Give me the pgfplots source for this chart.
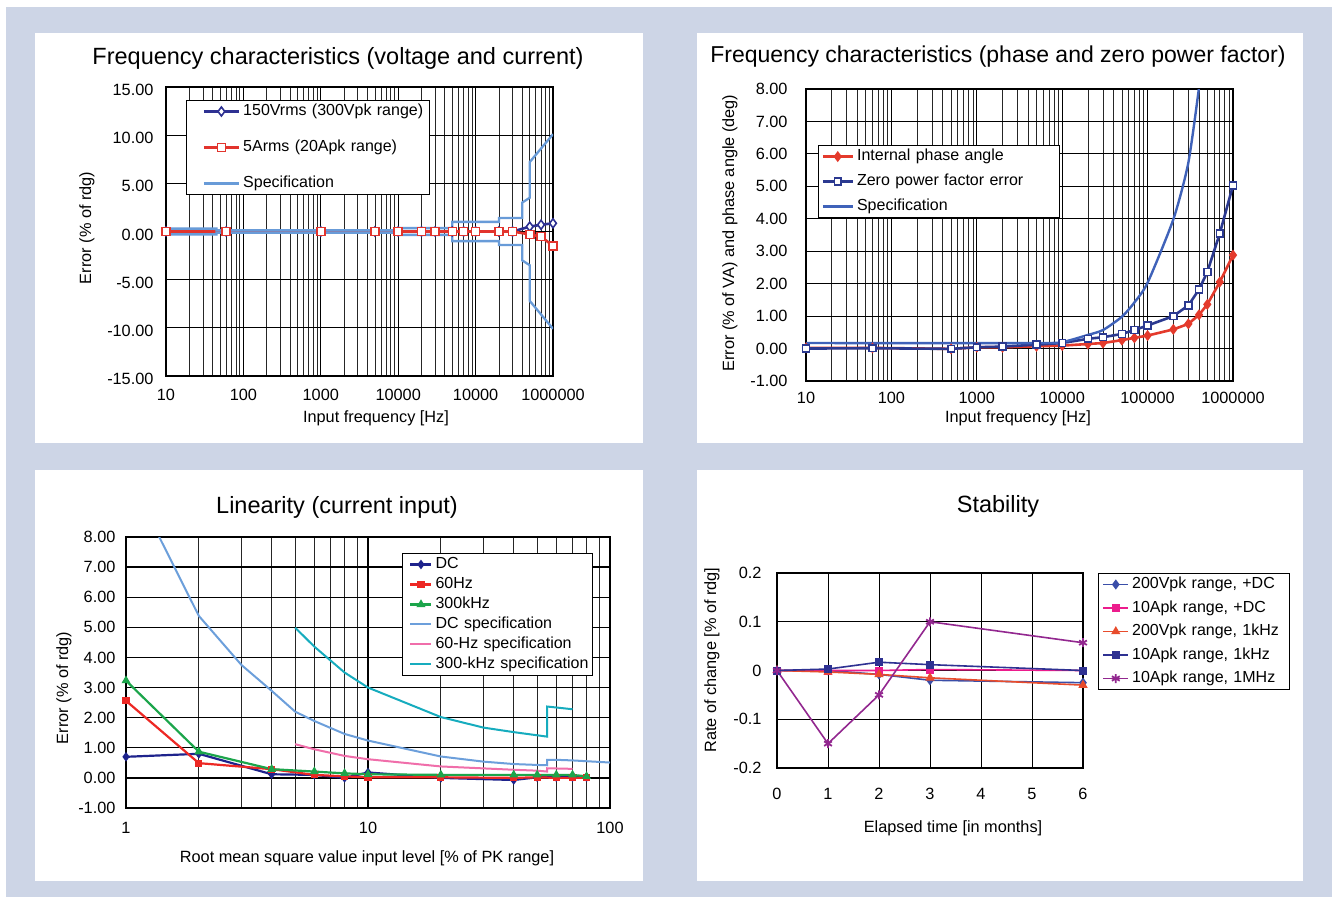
\documentclass[border=0pt]{standalone}
\usepackage{fontspec}
\setmainfont{Liberation Sans}
\usepackage{pgfplots}
\pgfplotsset{compat=1.18}

\definecolor{bgblue}{RGB}{205,213,230}
\definecolor{vblue}{RGB}{46,49,146}
\definecolor{ared}{RGB}{226,52,45}
\definecolor{speclt}{RGB}{104,155,216}
\definecolor{pred}{RGB}{228,58,44}
\definecolor{pblue}{RGB}{43,57,144}
\definecolor{pspec}{RGB}{63,98,185}
\definecolor{ldc}{RGB}{30,35,140}
\definecolor{l60}{RGB}{237,40,36}
\definecolor{l300}{RGB}{28,165,75}
\definecolor{ldcspec}{RGB}{108,159,219}
\definecolor{l60spec}{RGB}{240,110,170}
\definecolor{l300spec}{RGB}{22,172,190}
\definecolor{sblue}{RGB}{58,78,168}
\definecolor{spink}{RGB}{236,28,140}
\definecolor{sred}{RGB}{232,76,44}
\definecolor{snavy}{RGB}{46,49,146}
\definecolor{spurple}{RGB}{146,39,143}

\pgfplotsset{
  leglw/.initial=1pt,
  panel/.style={
    scale only axis, anchor=south west,
    axis line style={line width=1.6pt},
    xmajorgrids, ymajorgrids,
    major grid style={black, line width=1pt},
    minor grid style={black!85, line width=0.8pt},
    tick style={draw=none},
    ticklabel style={font=\fontsize{16.3}{19}\selectfont},
    /pgf/number format/assume math mode=true,
    legend cell align=left,
    legend style={font=\fontsize{16}{19}\selectfont, draw=black, line width=1pt,
      inner xsep=3pt, inner ysep=2pt},
  },
  legtext/.style={legend style={nodes={inner sep=1pt, text height=12pt, text depth=4pt,
      text width=#1, align=left}}},
  legline/.style 2 args={legend image code/.code={%
    \path (0pt,0pt) (#1+#2+2pt,0pt);
    \draw[line width=\pgfkeysvalueof{/pgfplots/leglw}, mark repeat=2, mark phase=2]
      plot coordinates {(#1,0pt) (#1+#2/2,0pt) (#1+#2,0pt)};}},
  decade/.style={minor xtick={20,30,40,50,60,70,80,90,200,300,400,500,600,700,800,900,
    2000,3000,4000,5000,6000,7000,8000,9000,20000,30000,40000,50000,60000,70000,80000,90000,
    200000,300000,400000,500000,600000,700000,800000,900000}, xminorgrids},
}

\begin{document}
\begin{tikzpicture}
\fill[white] (0pt,0pt) rectangle (1332pt,897pt);
\fill[bgblue] (6pt,0pt) rectangle (1332pt,890pt);
\fill[white] (35pt,454pt) rectangle (643pt,864pt);
\fill[white] (697pt,454pt) rectangle (1303pt,864pt);
\fill[white] (35pt,16pt) rectangle (643pt,427pt);
\fill[white] (697pt,16pt) rectangle (1303pt,427pt);
\useasboundingbox (0pt,0pt) rectangle (1332pt,897pt);

% ---- top left: voltage and current
\begin{axis}[panel, decade, at={(166pt,521pt)}, width=387pt, height=289pt,
  xmode=log, xmin=10, xmax=1000000, ymin=-15, ymax=15,
  xtick={10,100,1000,10000,100000,1000000},
  xticklabels={10,100,1000,10000,10000,1000000},
  ytick={-15,-10,-5,0,5,10,15},
  yticklabel style={xshift=-9pt, yshift=-3pt, /pgf/number format/.cd, fixed, fixed zerofill, precision=2},
  xticklabel style={yshift=-10pt},
  legline={13pt}{35pt}, legtext=182pt,
  legend style={at={(0.052,0.955)}, anchor=north west, row sep=18pt},
]
\addplot[vblue, line width=2.6pt, leglw=2.6pt, mark=diamond*, mark size=4.5pt, mark options={fill=white, line width=1.6pt}] coordinates {
  (10,0) (60,0) (1000,0) (5000,0) (10000,0) (20000,0) (30000,0) (50000,0) (70000,0)
  (100000,0) (200000,0) (300000,0) (500000,0.5) (700000,0.7) (1000000,0.85)};
\addlegendentry{150Vrms (300Vpk range)}
\addplot[ared, line width=2.6pt, leglw=2.6pt, mark=square*, mark size=4pt, mark options={fill=white, line width=1.6pt}] coordinates {
  (10,0) (60,0) (1000,0) (5000,0) (10000,0) (20000,0) (30000,0) (50000,0) (70000,0)
  (100000,0) (200000,0) (300000,0) (500000,-0.3) (700000,-0.54) (1000000,-1.48)};
\addlegendentry{5Arms (20Apk range)}
\addplot[speclt, line width=2.3pt, leglw=2.3pt] coordinates {
  (10,0.3) (45,0.3) (45,0.12) (10000,0.12) (10000,0.35) (50000,0.35) (50000,1.0)
  (200000,1.0) (200000,1.4) (400000,1.4) (400000,3.0) (500000,3.5) (500000,7.2) (1000000,10.1)};
\addlegendentry{Specification}
\addplot[speclt, line width=2.3pt, forget plot] coordinates {
  (10,-0.3) (45,-0.3) (45,-0.12) (10000,-0.12) (10000,-0.35) (50000,-0.35) (50000,-1.0)
  (200000,-1.0) (200000,-1.4) (400000,-1.4) (400000,-3.0) (500000,-3.5) (500000,-7.2) (1000000,-10.1)};
\end{axis}

% ---- top right: phase and zero power factor
\begin{axis}[panel, decade, at={(806pt,516pt)}, width=427pt, height=292pt,
  xmode=log, xmin=10, xmax=1000000, ymin=-1, ymax=8,
  xtick={10,100,1000,10000,100000,1000000},
  xticklabels={10,100,1000,10000,100000,1000000},
  ytick={-1,0,1,2,3,4,5,6,7,8},
  yticklabel style={xshift=-15pt, /pgf/number format/.cd, fixed, fixed zerofill, precision=2},
  xticklabel style={yshift=-8pt},
  legline={0pt}{30pt}, legtext=198pt,
  legend style={at={(0.028,0.808)}, anchor=north west, row sep=7pt},
]
\addplot[pred, line width=2.6pt, leglw=2.6pt, mark=diamond*, mark size=3.4pt] coordinates {
  (10,0.02) (60,0.02) (500,-0.01) (1000,0.04) (2000,0.04) (5000,0.07) (10000,0.09)
  (20000,0.14) (30000,0.17) (50000,0.26) (70000,0.33) (100000,0.40) (200000,0.59)
  (300000,0.76) (400000,1.04) (500000,1.36) (700000,2.05) (1000000,2.88)};
\addlegendentry{Internal phase angle}
\addplot[pblue, line width=2.6pt, leglw=2.6pt, mark=square*, mark size=3.4pt, mark options={fill=white, line width=1.6pt}] coordinates {
  (10,0.0) (60,0.01) (500,-0.01) (1000,0.04) (2000,0.06) (5000,0.12) (10000,0.17)
  (20000,0.30) (30000,0.35) (50000,0.45) (70000,0.57) (100000,0.71) (200000,1.0)
  (300000,1.33) (400000,1.82) (500000,2.36) (700000,3.55) (1000000,5.03)};
\addlegendentry{Zero power factor error}
\addplot[pspec, line width=2.4pt, leglw=2.4pt, smooth, tension=0.4] coordinates {
  (10,0.17) (5000,0.17) (10000,0.2) (20000,0.42) (30000,0.57) (50000,0.98) (70000,1.42)
  (100000,2.03) (200000,3.98) (300000,5.73) (400000,8.05)};
\addlegendentry{Specification}
\end{axis}

% ---- bottom left: linearity
\begin{axis}[panel, at={(126pt,89pt)}, width=484pt, height=271pt,
  xmode=log, xmin=1, xmax=100, ymin=-1, ymax=8,
  xtick={1,10,100}, xticklabels={1,10,100},
  minor xtick={2,3,4,5,6,7,8,9,20,30,40,50,60,70,80,90}, xminorgrids,
  ytick={-1,0,1,2,3,4,5,6,7,8},
  major grid style={black, line width=1.3pt},
  yticklabel style={xshift=-7pt, /pgf/number format/.cd, fixed, fixed zerofill, precision=2},
  xticklabel style={yshift=-11pt},
  legline={4pt}{21pt}, legtext=153pt,
  legend style={at={(0.570,0.941)}, anchor=north west, row sep=2pt},
]
\addplot[ldc, line width=2.2pt, leglw=2.2pt, mark=diamond*, mark size=3pt] coordinates {
  (1,0.7) (2,0.8) (4,0.12) (6,0.1) (8,0.0) (10,0.18) (20,0.0) (40,-0.07) (50,0.02)
  (60,0.02) (70,0.02) (80,0.02)};
\addlegendentry{DC}
\addplot[l60, line width=2.2pt, leglw=2.2pt, mark=square*, mark size=2.5pt] coordinates {
  (1,2.56) (2,0.49) (4,0.29) (6,0.1) (8,0.05) (10,0.02) (20,0.02) (40,0.0) (50,0.02)
  (60,0.0) (70,0.0) (80,0.0)};
\addlegendentry{60Hz}
\addplot[l300, line width=2.2pt, leglw=2.2pt, mark=triangle*, mark size=3pt] coordinates {
  (1,3.23) (2,0.87) (4,0.29) (6,0.21) (8,0.15) (10,0.12) (20,0.1) (40,0.1) (50,0.1)
  (60,0.1) (70,0.1) (80,0.05)};
\addlegendentry{300kHz}
\addplot[ldcspec, line width=2pt, leglw=2pt] coordinates {
  (1,10.2) (2,5.38) (3,3.75) (4,2.89) (5,2.2) (6,1.89) (8,1.46) (10,1.24) (20,0.71)
  (30,0.54) (40,0.46) (50,0.43) (55,0.42) (55,0.6) (60,0.6) (70,0.58) (100,0.51)};
\addlegendentry{DC specification}
\addplot[l60spec, line width=2pt, leglw=2pt] coordinates {
  (5,1.12) (6,0.95) (8,0.73) (10,0.62) (20,0.38) (40,0.27) (50,0.24) (55,0.21)
  (55,0.32) (70,0.30)};
\addlegendentry{60-Hz specification}
\addplot[l300spec, line width=2pt, leglw=2pt] coordinates {
  (5,4.99) (6,4.36) (8,3.5) (10,3.0) (20,2.02) (30,1.67) (40,1.52) (55,1.37)
  (55,2.37) (70,2.28)};
\addlegendentry{300-kHz specification}
\end{axis}

% ---- bottom right: stability
\begin{axis}[panel, at={(777pt,129pt)}, width=306pt, height=195pt,
  xmin=0, xmax=6, ymin=-0.2, ymax=0.2,
  xtick={0,1,2,3,4,5,6}, ytick={-0.2,-0.1,0,0.1,0.2},
  yticklabel style={xshift=-12pt},
  xticklabel style={yshift=-17pt},
  legline={1pt}{25pt}, legtext=153pt,
  legend style={at={(1.049,1.0)}, anchor=north west, row sep=5.5pt},
]
\addplot[sblue, line width=1.6pt, leglw=1.6pt, mark=diamond*, mark size=3.8pt] coordinates {
  (0,0) (1,0.0) (2,-0.008) (3,-0.02) (6,-0.025)};
\addlegendentry{200Vpk range, +DC}
\addplot[spink, line width=1.6pt, leglw=1.6pt, mark=square*, mark size=3.2pt] coordinates {
  (0,0) (1,0.0) (2,0.0) (3,0.002) (6,0.0)};
\addlegendentry{10Apk range, +DC}
\addplot[sred, line width=1.6pt, leglw=1.6pt, mark=triangle*, mark size=3.8pt] coordinates {
  (0,0) (1,-0.003) (2,-0.008) (3,-0.015) (6,-0.03)};
\addlegendentry{200Vpk range, 1kHz}
\addplot[snavy, line width=1.6pt, leglw=1.6pt, mark=square*, mark size=3.2pt] coordinates {
  (0,0) (1,0.003) (2,0.017) (3,0.012) (6,0.0)};
\addlegendentry{10Apk range, 1kHz}
\addplot[spurple, line width=1.6pt, leglw=1.6pt, mark=asterisk, mark size=4.5pt, mark options={line width=1.8pt}] coordinates {
  (0,0) (1,-0.15) (2,-0.05) (3,0.1) (6,0.057)};
\addlegendentry{10Apk range, 1MHz}
\end{axis}

% ---- titles and axis labels
\node[font=\fontsize{23.5}{28}\selectfont] at (338pt,839pt) {Frequency characteristics (voltage and current)};
\node[font=\fontsize{23}{28}\selectfont] at (998pt,840pt) {Frequency characteristics (phase and zero power factor)};
\node[font=\fontsize{23.5}{28}\selectfont] at (337pt,390pt) {Linearity (current input)};
\node[font=\fontsize{23.5}{28}\selectfont] at (998pt,391pt) {Stability};
\node[font=\fontsize{16.3}{19}\selectfont, rotate=90] at (87pt,669pt) {Error (\% of rdg)};
\node[font=\fontsize{16.3}{19}\selectfont, rotate=90] at (730pt,664pt) {Error (\% of VA) and phase angle (deg)};
\node[font=\fontsize{16.3}{19}\selectfont, rotate=90] at (64pt,209pt) {Error (\% of rdg)};
\node[font=\fontsize{16.3}{19}\selectfont, rotate=90] at (712pt,237pt) {Rate of change [\% of rdg]};
\node[font=\fontsize{16.3}{19}\selectfont] at (376pt,479pt) {Input frequency [Hz]};
\node[font=\fontsize{16.3}{19}\selectfont] at (1018pt,479pt) {Input frequency [Hz]};
\node[font=\fontsize{16.3}{19}\selectfont] at (367pt,39pt) {Root mean square value input level [\% of PK range]};
\node[font=\fontsize{16.3}{19}\selectfont] at (953pt,69pt) {Elapsed time [in months]};
\end{tikzpicture}
\end{document}
